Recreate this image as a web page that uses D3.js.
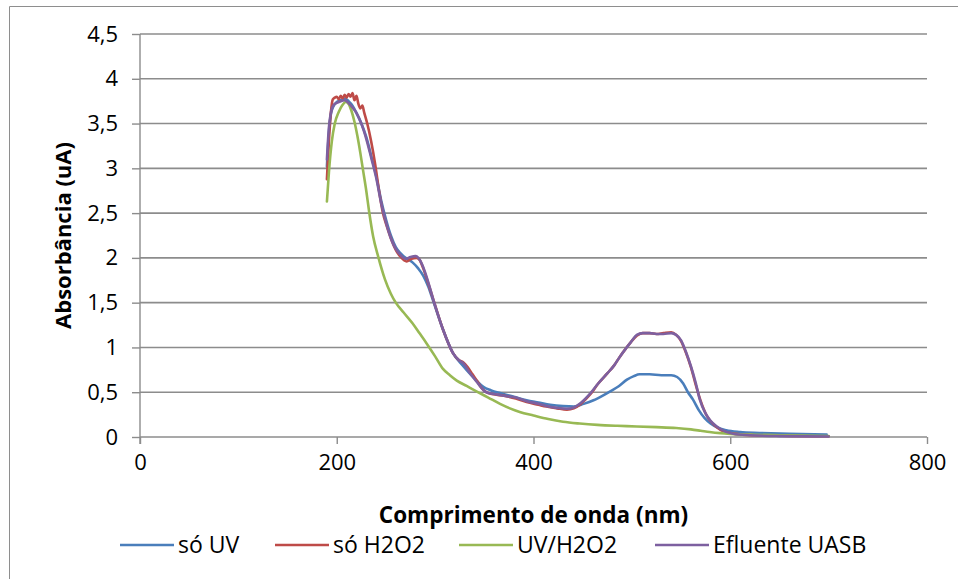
<!DOCTYPE html>
<html>
<head>
<meta charset="utf-8">
<script src="https://cdn.jsdelivr.net/npm/d3@7"></script>
<style>
  html, body { margin: 0; padding: 0; background: #fff; }
  svg text { font-family: "Open Sans", "Noto Sans", sans-serif; fill: #000; }
</style>
</head>
<body>
<svg id="chart" width="958" height="579"></svg>
<script>
// Absorbance spectra (wavelength in nm, absorbance in uA)
const soUV = [
  [190, 3.02], [192, 3.4], [194, 3.6], [197, 3.7], [200, 3.74], [204, 3.76], [208, 3.78],
  [212, 3.75], [216, 3.7], [220, 3.62], [225, 3.5], [230, 3.35], [235, 3.14], [240, 2.92],
  [245, 2.65], [250, 2.43], [255, 2.25], [260, 2.12], [265, 2.05], [270, 2.0], [277, 1.95],
  [283, 1.88], [288, 1.8], [293, 1.68], [298, 1.52], [308, 1.2], [318, 0.94], [328, 0.8],
  [336, 0.7], [343, 0.62], [349, 0.56], [357, 0.52], [366, 0.49], [380, 0.45], [393, 0.41],
  [405, 0.385], [417, 0.36], [430, 0.345], [441, 0.34], [451, 0.37], [461, 0.41], [470, 0.46],
  [478, 0.51], [487, 0.57], [495, 0.64], [502, 0.68], [508, 0.7], [518, 0.7], [530, 0.69],
  [540, 0.69], [546, 0.67], [552, 0.6], [557, 0.5], [562, 0.42], [568, 0.3], [574, 0.21],
  [580, 0.15], [588, 0.1], [596, 0.074], [610, 0.055], [630, 0.045], [660, 0.035], [698, 0.026]
];

const soH2O2 = [
  [190, 2.88], [192, 3.3], [194, 3.62], [196, 3.77], [198, 3.79], [200, 3.8], [202, 3.77],
  [204, 3.81], [206, 3.78], [208, 3.82], [210, 3.79], [212, 3.83], [214, 3.8], [216, 3.84],
  [218, 3.76], [220, 3.81], [222, 3.72], [224, 3.67], [226, 3.7], [228, 3.62], [231, 3.5],
  [235, 3.3], [239, 3.05], [243, 2.75], [247, 2.5], [251, 2.35], [255, 2.22], [260, 2.09],
  [265, 2.01], [271, 1.96], [276, 1.99], [281, 2.0], [284, 1.98], [288, 1.88], [292, 1.75],
  [298, 1.54], [308, 1.2], [318, 0.94], [324, 0.86], [329, 0.83], [333, 0.78], [338, 0.7],
  [343, 0.62], [347, 0.55], [352, 0.5], [358, 0.48], [370, 0.46], [382, 0.43], [393, 0.39],
  [405, 0.36], [413, 0.34], [424, 0.32], [434, 0.305], [441, 0.32], [448, 0.37], [458, 0.48],
  [466, 0.6], [475, 0.71], [482, 0.8], [488, 0.9], [494, 0.99], [499, 1.06], [505, 1.13],
  [511, 1.16], [518, 1.16], [525, 1.15], [532, 1.16], [540, 1.17], [545, 1.14], [550, 1.07],
  [555, 0.94], [560, 0.78], [565, 0.58], [570, 0.4], [576, 0.24], [583, 0.14], [590, 0.08],
  [597, 0.05], [605, 0.035], [625, 0.02], [660, 0.012], [700, 0.008]
];

const uvH2O2 = [
  [190, 2.63], [192, 2.95], [195, 3.3], [198, 3.5], [202, 3.63], [206, 3.71], [209, 3.74],
  [212, 3.72], [215, 3.64], [218, 3.52], [221, 3.36], [224, 3.17], [227, 2.96], [230, 2.75],
  [233, 2.51], [237, 2.24], [242, 2.02], [249, 1.76], [255, 1.6], [260, 1.5], [268, 1.39],
  [277, 1.27], [284, 1.16], [291, 1.05], [300, 0.9], [308, 0.76], [315, 0.69], [322, 0.63],
  [332, 0.57], [342, 0.51], [354, 0.44], [366, 0.37], [376, 0.32], [386, 0.28], [400, 0.24],
  [415, 0.2], [430, 0.17], [447, 0.15], [465, 0.135], [485, 0.125], [505, 0.118], [525, 0.11],
  [545, 0.1], [560, 0.085], [570, 0.07], [579, 0.056], [590, 0.043], [600, 0.035], [625, 0.025],
  [650, 0.02], [700, 0.012]
];

const efluenteUASB = [
  [190, 3.1], [192, 3.45], [194, 3.62], [197, 3.71], [200, 3.73], [204, 3.75], [208, 3.76],
  [212, 3.73], [216, 3.68], [220, 3.62], [225, 3.5], [230, 3.33], [235, 3.12], [240, 2.9],
  [245, 2.62], [250, 2.4], [255, 2.22], [260, 2.1], [265, 2.03], [270, 1.99], [275, 2.01],
  [280, 2.02], [283, 2.0], [287, 1.92], [291, 1.8], [298, 1.54], [308, 1.2], [318, 0.94],
  [324, 0.86], [329, 0.82], [335, 0.72], [342, 0.62], [347, 0.55], [352, 0.5], [360, 0.48],
  [370, 0.46], [382, 0.44], [393, 0.4], [405, 0.37], [413, 0.345], [424, 0.325], [434, 0.315],
  [441, 0.33], [448, 0.38], [458, 0.49], [466, 0.6], [475, 0.71], [482, 0.8], [488, 0.9],
  [494, 0.99], [499, 1.06], [505, 1.14], [511, 1.16], [518, 1.16], [525, 1.15], [532, 1.15],
  [540, 1.16], [545, 1.14], [550, 1.08], [555, 0.95], [560, 0.79], [565, 0.6], [569, 0.42],
  [575, 0.26], [580, 0.18], [586, 0.12], [595, 0.06], [603, 0.037], [620, 0.02], [650, 0.01],
  [700, 0.005]
];

const seriesNames = ["só UV", "só H2O2", "UV/H2O2", "Efluente UASB"];
const seriesColors = ["#4A7EBB", "#BE4B48", "#98B954", "#7D60A0"];
const seriesData = [soUV, soH2O2, uvH2O2, efluenteUASB];

const xTicks = [0, 200, 400, 600, 800];
const yTicks = [0, 0.5, 1, 1.5, 2, 2.5, 3, 3.5, 4, 4.5];

const xTitle = "Comprimento de onda (nm)";
const yTitle = "Absorbância (uA)";

// ---- layout ----
const svg = d3.select("#chart");
const plot = { left: 140, right: 927, top: 34, bottom: 437 };

const x = d3.scaleLinear().domain([0, 800]).range([plot.left, plot.right]);
const y = d3.scaleLinear().domain([0, 4.5]).range([plot.bottom, plot.top]);

const gridColor = "#8C8C8C";
const fmt = v => String(v).replace(".", ",");

// outer chart frame
svg.append("path")
  .attr("d", "M9.5,579 L9.5,6.5 L958,6.5")
  .attr("fill", "none")
  .attr("stroke", "#8E8E8E")
  .attr("stroke-width", 1);

// horizontal gridlines
svg.append("g")
  .selectAll("line")
  .data(yTicks.filter(d => d > 0))
  .join("line")
  .attr("x1", plot.left).attr("x2", plot.right)
  .attr("y1", d => y(d)).attr("y2", d => y(d))
  .attr("stroke", gridColor)
  .attr("stroke-width", 1.6);

// y axis
const yAxis = d3.axisLeft(y).tickValues(yTicks).tickFormat(fmt).tickSize(8).tickPadding(14);
const gy = svg.append("g").attr("transform", `translate(${plot.left},0)`).call(yAxis);
gy.select(".domain").attr("stroke", gridColor).attr("stroke-width", 1.4)
  .attr("d", `M0,${plot.top}V${plot.bottom + 7}`);
gy.selectAll(".tick line").attr("stroke", gridColor).attr("stroke-width", 1.4);
gy.selectAll(".tick text").attr("font-size", 22).attr("fill", "#000")
  .style("font-family", "'Open Sans', sans-serif");

// x axis
const xAxis = d3.axisBottom(x).tickValues(xTicks).tickFormat(fmt).tickSize(7).tickPadding(10);
const gx = svg.append("g").attr("transform", `translate(0,${plot.bottom})`).call(xAxis);
gx.select(".domain").attr("stroke", gridColor).attr("stroke-width", 1.4)
  .attr("d", `M${plot.left},0H${plot.right}`);
gx.selectAll(".tick line").attr("stroke", gridColor).attr("stroke-width", 1.4);
gx.selectAll(".tick text").attr("font-size", 22).attr("fill", "#000")
  .style("font-family", "'Open Sans', sans-serif");

// series lines
const line = d3.line()
  .x(d => x(d[0]))
  .y(d => y(d[1]))
  .curve(d3.curveMonotoneX);

svg.append("g")
  .selectAll("path")
  .data(seriesData)
  .join("path")
  .attr("d", d => line(d))
  .attr("fill", "none")
  .attr("stroke", (d, i) => seriesColors[i])
  .attr("stroke-width", 2.6)
  .attr("stroke-linejoin", "round")
  .attr("stroke-linecap", "round");

// axis titles
svg.append("text")
  .attr("x", (plot.left + plot.right) / 2)
  .attr("y", 523)
  .attr("text-anchor", "middle")
  .attr("font-size", 22.5)
  .attr("font-weight", "bold")
  .text(xTitle);

svg.append("text")
  .attr("transform", `translate(71,${(plot.top + plot.bottom) / 2}) rotate(-90)`)
  .attr("text-anchor", "middle")
  .attr("font-size", 22)
  .attr("font-weight", "bold")
  .text(yTitle);

// legend
const legendX = [120, 275, 459, 655];
const legend = svg.append("g").attr("transform", "translate(0,545)");
const items = legend.selectAll("g")
  .data(seriesNames)
  .join("g")
  .attr("transform", (d, i) => `translate(${legendX[i]},0)`);
items.append("line")
  .attr("x1", 0).attr("x2", 54)
  .attr("y1", 0).attr("y2", 0)
  .attr("stroke", (d, i) => seriesColors[i])
  .attr("stroke-width", 2.6);
items.append("text")
  .attr("x", 58)
  .attr("y", 0)
  .attr("dy", "0.35em")
  .attr("font-size", 23)
  .text(d => d);
</script>
</body>
</html>
